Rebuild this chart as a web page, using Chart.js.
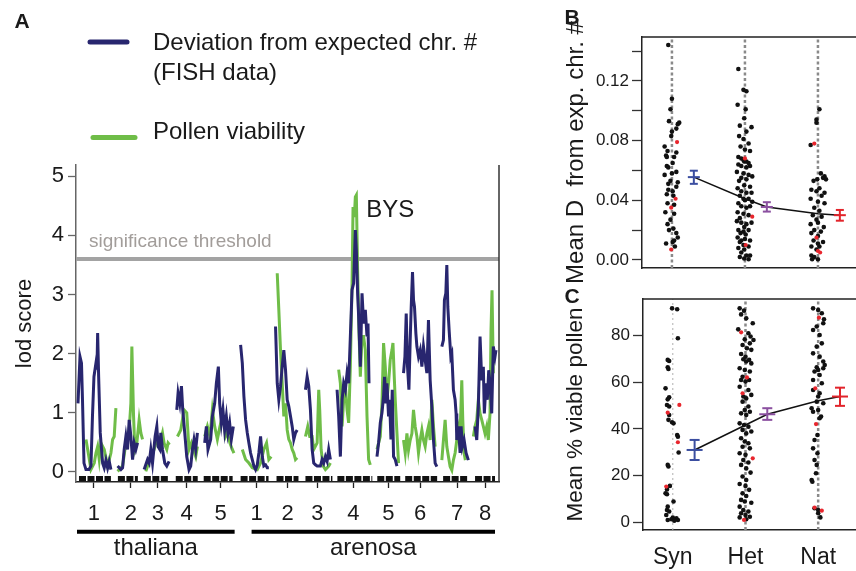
<!DOCTYPE html>
<html>
<head>
<meta charset="utf-8">
<script src="https://cdn.jsdelivr.net/npm/chart.js@4.4.1/dist/chart.umd.min.js"></script>
<style>
  html, body { margin: 0; padding: 0; background: #fff; }
  body { width: 856px; height: 571px; position: relative; overflow: hidden; }
  canvas { position: absolute; top: 0; }
</style>
</head>
<body>
<canvas id="panelA" width="856" height="571" style="left:0"></canvas>
<canvas id="panelB" width="330" height="571" style="left:550px"></canvas>
<canvas id="panelC" width="330" height="571" style="left:550px"></canvas>
<script>
// ---- Panel A: lod scores along the genome (position units) ----
const chromLabels = ['1', '2', '3', '4', '5', '1', '2', '3', '4', '5', '6', '7', '8'];
const chromTicks = [18, 55, 82, 111, 145, 181, 212, 242, 278, 313, 345, 382, 410];
const markerSpans = [[3, 35], [42, 62], [68, 93], [100, 122], [128, 157], [165, 193], [201, 223],
  [230, 257], [262, 297], [302, 325], [330, 362], [368, 393], [400, 420]];
const speciesNames = ['thaliana', 'arenosa'];
const speciesSpans = [[1, 159], [176, 420]];
const lodTicks = [0, 1, 2, 3, 4, 5];
const thresholdLod = 3.6;

const fishLod = [
  [[2, 1.16], [4, 1.95], [5.5, 1.84], [6.5, 1.22], [8, 0.15], [10, 0.04], [13, 0.04], [15, 0.1], [16.5, 0.94], [18, 1.61], [20, 1.84], [21, 1.73], [21.7, 2.35], [22.7, 1.61], [24.3, 0.66], [26.7, 0.15], [28.3, 0.07], [30, 0.2], [31.7, 0.07], [33.3, 0.18], [35, 0.04]],
  [[41.7, 0.1], [45, 0.04], [46.7, 0.07], [48.3, 0.38], [50, 0.6], [51.7, 0.38], [53.3, 0.88], [55, 0.6], [56.7, 0.21], [58.3, 0.49], [60, 0.38], [61.7, 0.49]],
  [[68.3, 0.04], [71.7, 0.21], [73.3, 0.15], [75, 0.38], [76.7, 0.15], [79.3, 0.6], [81, 0.77], [82.3, 0.43], [84, 0.38], [85, 0.66], [86.7, 0.38], [89, 0.15], [91, 0.1], [93.3, 0.18]],
  [[101, 1.05], [102.3, 1.33], [104, 1.16], [105.7, 1.45], [107, 1.05], [109, 0.66], [111, 0.26], [113.3, 0.04], [115, 0.1], [116.7, 0.38], [118.3, 0.55], [120, 0.38], [121.7, 0.66]],
  [[129, 0.49], [130.7, 0.77], [132.3, 0.38], [135, 0.55], [136.7, 0.94], [139, 1.16], [140.7, 1.5], [142.7, 1.78], [144, 1.16], [145.7, 0.83], [147.3, 1.05], [149, 0.71], [150.7, 0.94], [152.3, 0.66], [154, 0.83], [155.7, 0.55], [157.7, 0.77]],
  [[165, 2.15], [166.7, 1.84], [168.3, 1.28], [170, 0.88], [171.7, 0.66], [173.3, 0.49], [175, 0.32], [176.7, 0.21], [178.3, 0.1], [180, 0.04], [181.7, 0.12], [183.3, 0.32], [185, 0.6], [186.7, 0.26], [188.3, 0.1], [190, 0.12], [191.7, 0.07], [193.3, 0.07]],
  [[200, 2.46], [201.7, 1.5], [203.3, 1.22], [205, 1.45], [206.7, 1.78], [208.3, 2.06], [210, 1.73], [211.7, 1.22], [213.3, 1.11], [215, 0.94], [216.7, 0.77], [218.3, 0.55], [220, 0.66], [221.7, 0.71]],
  [[230, 1.39], [231.7, 1.61], [233.3, 1.45], [235, 1.05], [236.7, 0.38], [238.3, 0.15], [240, 0.12], [241.7, 0.1], [245, 0.1], [246.7, 0.21], [248.3, 0.15], [250, 0.26], [251.7, 0.18], [253.3, 0.38], [255, 0.21]],
  [[261.7, 1.39], [263.3, 0.94], [265, 0.26], [266.7, 1.22], [268.3, 1.5], [270, 1.39], [271.7, 1.67], [273.3, 1.5], [275, 2.29], [276.7, 3.08], [278.3, 3.19], [280, 4.09], [281, 3.75], [282.3, 3.02], [283.3, 2.63], [285, 1.78], [286.7, 3.02], [288.3, 2.51], [290, 2.74], [291.7, 2.29], [292.7, 2.51], [293.7, 1.5]],
  [[301.7, 0.26], [303.3, 0.49], [305, 0.83], [306.7, 1.0], [308.3, 1.28], [309.3, 1.61], [310.7, 1.16], [311.7, 1.5], [313.3, 0.94], [314.3, 1.22], [315.7, 0.55], [317, 1.39], [318.3, 0.26], [320, 0.21], [321.7, 0.1]],
  [[328.3, 1.67], [329.7, 1.95], [331, 2.68], [332.3, 1.78], [333.7, 1.39], [335, 2.23], [336, 2.79], [337.3, 3.38], [338.3, 2.91], [339.3, 2.79], [340.7, 2.34], [341.7, 2.12], [343.3, 1.95], [345, 2.06], [346.7, 1.78], [348.3, 2.12], [350, 1.89], [351.7, 1.67], [353.3, 2.57], [355, 1.55], [356.7, 1.1], [358.3, 0.54], [360, 0.15], [361.7, 0.09]],
  [[366.7, 2.12], [368.3, 2.23], [369.3, 2.91], [370.7, 3.02], [371.7, 3.5], [372.7, 2.79], [374, 2.4], [375.7, 1.95], [376.7, 2.0], [378.3, 1.39], [380, 1.22], [381, 0.99], [381.7, 0.54], [383.3, 0.77], [385, 0.32], [386, 0.77], [387.3, 0.43], [389, 0.54], [391, 0.32], [393.3, 0.2]],
  [[400, 0.77], [401.7, 0.54], [403.3, 1.1], [405, 2.29], [406.7, 1.55], [408.3, 1.78], [409.3, 0.99], [411, 1.5], [412.3, 1.22], [413.7, 1.72], [415, 1.5], [416.7, 0.99], [418.3, 2.12], [420, 1.95], [421, 2.06]]
];

const pollenLod = [
  [[10, 0.55], [11.7, 0.38], [15, 0.04], [18.3, 0.15], [20, 0.32], [21.7, 0.43], [23.3, 0.21], [25, 0.49], [28.3, 0.38], [31.7, 0.1], [35, 0.32], [36.7, 0.55], [38.3, 0.6], [40, 1.08]],
  [[41.7, 0.01], [46.7, 0.1], [50, 0.49], [53.3, 0.71], [55, 1.16], [56, 2.12], [57.7, 0.94], [59, 0.38], [61, 0.49], [63.3, 0.88], [65, 0.66], [66.7, 0.55]],
  [[70, 0.01], [75, 0.26], [78.3, 0.38], [81.7, 0.6], [85, 0.55], [86.7, 0.66], [88.3, 0.49], [91, 0.38], [92.3, 0.49], [93.7, 0.46]],
  [[101.7, 0.6], [105, 0.71], [108.3, 1.05], [111, 1.0], [113.3, 0.38], [115.7, 0.49], [117.7, 0.38], [120, 0.26], [121.7, 0.43]],
  [[129, 0.6], [131.7, 0.77], [134.3, 0.6], [136.7, 1.05], [139, 0.77], [141.7, 0.55], [144.3, 0.77], [146.7, 0.94], [148.3, 0.83], [150, 0.6], [151.7, 0.66], [154.3, 0.49], [156.7, 0.38], [158.3, 0.32]],
  [[166.7, 0.38], [170, 0.21], [173.3, 0.15], [176.7, 0.07], [181.7, 0.04], [185, 0.15], [188.3, 0.38], [191, 0.49], [193.3, 0.21], [195.7, 0.26]],
  [[201.7, 3.36], [203.3, 2.74], [205, 2.06], [206.7, 1.5], [208.3, 0.94], [210, 1.16], [211.7, 0.71], [213.3, 0.55], [215, 0.49], [216.7, 0.38], [218.3, 0.32], [220, 0.21], [221.7, 0.24]],
  [[230, 0.6], [232.3, 0.77], [234.3, 0.6], [236.7, 0.6], [238.3, 0.38], [241.7, 0.49], [243.3, 1.39], [244.3, 1.05], [245.7, 0.38], [247.7, 0.1], [250, 0.04], [253.3, 0.1], [255, 0.15]],
  [[263.3, 1.73], [265, 1.5], [266.7, 0.77], [268.3, 1.22], [270, 1.45], [271.7, 1.05], [273.3, 0.83], [275, 1.78], [276.7, 3.19], [277.7, 4.48], [279, 4.31], [280, 4.65], [281, 4.68], [282.3, 3.41], [283.7, 2.35], [285, 1.61], [286.7, 2.29], [288.3, 2.29], [290, 2.06], [291.7, 0.94], [293.3, 0.21], [295, 0.12]],
  [[301.7, 0.38], [305, 0.6], [306.7, 1.16], [308.3, 2.18], [310, 1.78], [311.7, 1.22], [313.3, 1.5], [315, 1.9], [316.7, 2.06], [317.7, 2.18], [319, 1.61], [320, 1.22], [321.7, 0.66], [323.3, 0.15]],
  [[328.3, 0.54], [330, 0.32], [331.7, 0.65], [333.3, 0.37], [335, 0.54], [336.7, 0.65], [338.3, 1.05], [340, 0.77], [341.7, 0.6], [343.3, 0.32], [345, 0.54], [346.7, 0.71], [348.3, 0.54], [350, 0.43], [351.7, 0.65], [353.3, 0.77], [355, 0.54], [356.7, 1.22], [358.3, 0.77], [360, 0.43]],
  [[366.7, 0.2], [368.3, 0.54], [370, 0.88], [371.7, 0.43], [373.3, 0.26], [375, 0.09], [376.7, 0.03], [378.3, 0.2], [380, 0.32], [381.7, 0.54], [383.3, 0.77], [385, 0.65], [386.7, 1.55], [387.7, 0.88], [389, 0.32], [390.3, 0.2]],
  [[398.3, 0.6], [400, 0.77], [401.7, 0.88], [403.3, 1.22], [405, 0.99], [406.7, 0.88], [408.3, 0.77], [410, 0.65], [411.7, 0.77], [413.3, 0.54], [415, 0.99], [416, 2.4], [417, 3.07], [418.3, 1.67]]
];

// ---- Panels B and C: per-plant values, [jitter, value]; red = [group, jitter, value] ----
const groups = ['Syn', 'Het', 'Nat'];

const devSyn = [[-0.05, 0.144], [0, 0.108], [-0.02, 0.101], [-0.04, 0.093], [0.08, 0.091], [0.10, 0.092], [0, 0.086], [-0.01, 0.083], [0.06, 0.088], [-0.10, 0.076], [-0.06, 0.073], [-0.08, 0.070], [-0.07, 0.069], [0.06, 0.072], [0.03, 0.069], [0.01, 0.065], [-0.07, 0.063], [-0.05, 0.062], [0, 0.058], [0.06, 0.059], [-0.10, 0.057], [-0.02, 0.053], [-0.05, 0.051], [0.08, 0.052], [0.06, 0.049], [-0.05, 0.047], [0.01, 0.046], [-0.07, 0.044], [0.02, 0.043], [-0.06, 0.038], [0.03, 0.037], [-0.09, 0.032], [0.03, 0.031], [-0.02, 0.027], [-0.06, 0.024], [0.02, 0.021], [-0.04, 0.020], [0.06, 0.018], [0.08, 0.015], [0.03, 0.013], [-0.08, 0.011], [0.01, 0.012], [0.04, 0.009]];
const devHet = [[-0.09, 0.128], [-0.02, 0.114], [0.02, 0.113], [-0.10, 0.104], [0.01, 0.101], [-0.01, 0.095], [-0.07, 0.090], [0.09, 0.089], [0.02, 0.086], [-0.08, 0.083], [-0.02, 0.081], [0.05, 0.078], [-0.06, 0.076], [0, 0.074], [0.07, 0.073], [-0.09, 0.069], [-0.05, 0.068], [-0.02, 0.067], [-0.01, 0.066], [0.02, 0.066], [0.05, 0.065], [-0.09, 0.064], [-0.05, 0.063], [0.02, 0.062], [0.07, 0.063], [-0.11, 0.059], [-0.02, 0.058], [0.05, 0.057], [0.10, 0.056], [-0.05, 0.055], [0.02, 0.054], [-0.08, 0.053], [-0.01, 0.050], [0.07, 0.049], [-0.10, 0.048], [-0.05, 0.046], [0.02, 0.045], [0.09, 0.045], [-0.07, 0.043], [-0.02, 0.041], [0.05, 0.041], [0, 0.040], [0.10, 0.039], [-0.09, 0.038], [-0.05, 0.036], [0.02, 0.035], [0.07, 0.036], [-0.10, 0.032], [-0.02, 0.031], [0.05, 0.030], [-0.07, 0.028], [-0.11, 0.026], [-0.05, 0.025], [0.02, 0.024], [0.09, 0.025], [-0.01, 0.022], [-0.09, 0.020], [-0.02, 0.019], [0.05, 0.020], [-0.06, 0.018], [0.01, 0.017], [-0.10, 0.015], [-0.05, 0.013], [0, 0.014], [0.07, 0.013], [-0.07, 0.012], [-0.02, 0.010], [0.05, 0.009], [-0.09, 0.008], [-0.01, 0.007], [-0.05, 0.005], [0.02, 0.003], [0.07, 0.003], [-0.07, 0.002], [-0.01, 0.001], [0.05, 0.0005]];
const devNat = [[0.02, 0.101], [-0.02, 0.094], [-0.02, 0.092], [-0.10, 0.077], [0.04, 0.058], [0.09, 0.056], [0.07, 0.055], [-0.01, 0.054], [-0.06, 0.053], [0.11, 0.054], [0.02, 0.048], [-0.09, 0.047], [-0.02, 0.046], [0.09, 0.045], [0.05, 0.043], [-0.10, 0.041], [0, 0.039], [0.09, 0.038], [-0.05, 0.035], [0.02, 0.033], [-0.07, 0.030], [0.05, 0.029], [-0.02, 0.027], [0, 0.025], [-0.10, 0.024], [0.08, 0.022], [-0.05, 0.020], [0.04, 0.019], [-0.09, 0.018], [0, 0.016], [-0.06, 0.013], [0.07, 0.012], [0, 0.011], [-0.09, 0.009], [0.02, 0.009], [-0.02, 0.007], [-0.09, 0.003], [-0.05, 0.002], [-0.08, 0.0005], [0, 0.0005]];
const devRed = [[0, 0.07, 0.079], [0, 0.05, 0.041], [0, -0.01, 0.035], [0, -0.01, 0.007], [1, 0, 0.068], [1, 0.10, 0.029], [1, 0.01, 0.010], [2, -0.05, 0.078], [2, -0.02, 0.015], [2, 0, 0.006], [2, 0.03, 0.005]];
const devMean = [0.0555, 0.0355, 0.030];
const devLow = [0.0510, 0.0324, 0.0263];
const devHigh = [0.0598, 0.0387, 0.0335];
const devTrend = [[1.3, 0.0555], [2, 0.041], [2.3, 0.0355], [3, 0.031], [3.3, 0.030]];
const devTicks = [0, 0.02, 0.04, 0.06, 0.08, 0.10, 0.12, 0.14];
const devTickLabels = ['0.00', '', '0.04', '', '0.08', '', '0.12', ''];

const polSyn = [[-0.01, 91.7], [0.06, 91.3], [0.07, 78.9], [-0.07, 69.6], [-0.05, 69.1], [-0.07, 66.4], [-0.06, 65.7], [-0.10, 57.4], [-0.05, 53.6], [-0.07, 52.7], [-0.08, 50.3], [-0.05, 49.6], [-0.05, 46], [-0.06, 43.9], [-0.01, 42.9], [0.01, 42.4], [0.06, 37.4], [0.07, 36.7], [0.08, 29.9], [-0.07, 24.6], [-0.06, 23.9], [-0.04, 15.6], [-0.08, 14.1], [-0.10, 12.4], [-0.08, 12], [0.01, 8.9], [-0.07, 6.7], [-0.08, 5.3], [-0.05, 4.6], [-0.09, 3.1], [0, 2], [0.05, 1.7], [-0.02, 1.3], [0.07, 1], [-0.07, 1], [0.02, 0.7]];
const polHet = [[-0.08, 91.7], [-0.02, 90.7], [-0.06, 89.1], [0.01, 87.4], [0.10, 85.3], [-0.10, 82.7], [0.04, 81], [0.07, 79.6], [0.11, 78.1], [-0.01, 78.4], [0.06, 76.7], [-0.04, 76], [0.02, 74.6], [0.08, 73.9], [-0.06, 72.1], [0, 71], [0.05, 69.6], [-0.03, 69.9], [0.01, 68.9], [0.08, 68.1], [-0.08, 66], [-0.01, 65.3], [0.06, 64.6], [-0.04, 62.4], [-0.06, 61], [0, 60.3], [0.05, 61], [-0.08, 58.1], [0.04, 56.7], [-0.03, 53.9], [0.08, 54.6], [0.01, 53.1], [-0.04, 51.7], [0.04, 49.6], [-0.01, 48.1], [0.06, 47.4], [-0.06, 46.7], [0.01, 46], [-0.08, 42.4], [-0.02, 41.7], [0.04, 41], [-0.04, 39.6], [0.01, 38.1], [0.08, 38.9], [-0.06, 36], [-0.01, 34.6], [0.04, 33.9], [-0.04, 32.4], [0.06, 31.7], [-0.08, 29.6], [0, 28.9], [-0.03, 26.7], [0.04, 25.6], [-0.06, 24.6], [0.01, 23.1], [0.07, 21.3], [-0.04, 19.6], [0.01, 18.1], [-0.08, 16.4], [0, 15.6], [0.05, 13.9], [-0.04, 12.4], [0.01, 11.3], [-0.06, 9.6], [-0.01, 8.9], [0.08, 8.4], [-0.08, 6.7], [-0.03, 5.3], [0.04, 4.6], [-0.06, 3.9], [0, 3.1], [0.06, 2.4], [-0.08, 2.1], [0.01, 1.3]];
const polNat = [[-0.07, 91.7], [0, 91], [0.05, 89.6], [0.08, 87], [0.07, 85.3], [-0.02, 83.9], [-0.07, 82.4], [0.02, 80.3], [0.05, 76.7], [-0.02, 75.3], [-0.07, 72.4], [0.02, 71], [0.07, 68.9], [0.09, 67.4], [0.07, 66], [-0.02, 66.4], [0, 65.3], [-0.05, 64.6], [0.02, 63.1], [-0.07, 61], [0.05, 59.6], [-0.07, 56.7], [0.02, 55.3], [0, 53.9], [-0.02, 51.7], [0.07, 51], [-0.09, 48.9], [0, 48.1], [-0.07, 47.4], [0.04, 45.3], [0.02, 44.6], [-0.01, 37.4], [-0.05, 35.3], [-0.07, 31.7], [-0.01, 29.6], [-0.05, 26.7], [-0.02, 24.6], [-0.03, 21], [-0.09, 18.1], [-0.08, 17.4], [-0.05, 6], [0, 5.3], [0.03, 2.1], [0, 3.9]];
const polRed = [[0, 0.09, 50.3], [0, -0.07, 47], [0, 0.07, 34.3], [0, -0.09, 15.3], [1, -0.06, 81.4], [1, 0.02, 62.1], [1, -0.04, 55.3], [1, 0.10, 27.4], [1, -0.02, 1.0], [2, 0.01, 87.7], [2, -0.04, 57.4], [2, -0.03, 42.1], [2, -0.05, 6.3], [2, 0.05, 5]];
const polMean = [31, 46.3, 53.9];
const polLow = [26.7, 43.9, 49.9];
const polHigh = [35.3, 48.9, 57.7];
const polTrend = [[1.3, 31], [2, 41.7], [2.3, 46.3], [3, 52.1], [3.3, 53.9]];
const polTicks = [0, 20, 40, 60, 80];

// ---- styling ----
const FONT = '"Liberation Sans", Arial, Helvetica, sans-serif';
const NAVY = '#28266f';
const GREEN = '#6fbd48';
const GROUP_COLORS = ['#3b4ea0', '#8b50a0', '#e2242b'];

Chart.defaults.font.family = FONT;
Chart.defaults.color = '#1a1a1a';
Chart.defaults.animation = false;

// plain pixel text and legend swatches
const annotatePlugin = {
  id: 'annotate',
  afterDraw(chart, args, opts) {
    const ctx = chart.ctx;
    (opts.items || []).forEach(it => {
      ctx.save();
      if (it.swatch) {
        ctx.strokeStyle = it.swatch;
        ctx.lineWidth = 5;
        ctx.lineCap = 'round';
        ctx.beginPath();
        ctx.moveTo(it.x1, it.y);
        ctx.lineTo(it.x2, it.y);
        ctx.stroke();
      } else {
        let x = it.x, y = it.y;
        if (it.inData) {
          x = chart.scales.x.getPixelForValue(it.x);
          y = chart.scales.y.getPixelForValue(it.y);
        }
        ctx.font = it.font;
        ctx.fillStyle = it.color || '#1a1a1a';
        ctx.textAlign = it.align || 'left';
        ctx.textBaseline = 'middle';
        ctx.fillText(it.text, x, y);
      }
      ctx.restore();
    });
  }
};

// top / right lines of the plot box
const framePlugin = {
  id: 'frame',
  afterDatasetsDraw(chart, args, opts) {
    const { ctx, chartArea: a } = chart;
    ctx.save();
    ctx.strokeStyle = opts.color || '#222';
    ctx.lineWidth = opts.width || 1.5;
    ctx.beginPath();
    (opts.sides || []).forEach(side => {
      if (side === 'top') { ctx.moveTo(a.left, a.top); ctx.lineTo(a.right, a.top); }
      if (side === 'right') { ctx.moveTo(a.right, a.top); ctx.lineTo(a.right, a.bottom); }
    });
    ctx.stroke();
    ctx.restore();
  }
};

// chromosome pieces joined into one line, broken between pieces
function joinSegments(segments) {
  const out = [];
  segments.forEach((seg, i) => {
    if (i > 0) out.push({ x: seg[0][0] - 0.5, y: null });
    seg.forEach(([x, y]) => out.push({ x, y }));
  });
  return out;
}

function setTicks(values) {
  return scale => { scale.ticks = values.map(v => ({ value: v })); };
}

function lineSet(data, color, width, extra) {
  return Object.assign({ data, showLine: true, borderColor: color, borderWidth: width, pointRadius: 0, spanGaps: false }, extra || {});
}

// ---------------- Panel A ----------------
const genomeRange = [0, 424];
const lodRange = [-0.17, 5.19];
const rugLod = -0.11;
const underlineLod = -1.01;

new Chart(document.getElementById('panelA'), {
  type: 'scatter',
  data: {
    datasets: [
      lineSet(joinSegments(fishLod), NAVY, 3, { label: 'Deviation from expected chr. # (FISH data)' }),
      lineSet(joinSegments(pollenLod), GREEN, 3, { label: 'Pollen viability' }),
      lineSet([{ x: genomeRange[0], y: thresholdLod }, { x: genomeRange[1], y: thresholdLod }], '#a3a3a3', 4, { label: 'significance threshold' }),
      lineSet(joinSegments(markerSpans.map(([a, b]) => [[a, rugLod], [b, rugLod]])), '#111', 5,
        { label: 'markers', borderDash: [7, 1.5], borderCapStyle: 'butt' }),
      lineSet(joinSegments(speciesSpans.map(([a, b]) => [[a, underlineLod], [b, underlineLod]])), '#000', 4,
        { label: 'species', clip: false })
    ]
  },
  options: {
    responsive: false,
    layout: { padding: { left: 0, top: 165, right: 357, bottom: 0 } },
    plugins: {
      legend: { display: false },
      tooltip: { enabled: false },
      frame: { sides: ['right'], color: '#333', width: 1.5 },
      annotate: {
        items: [
          { text: 'A', x: 22, y: 22, font: 'bold 21px ' + FONT, align: 'center' },
          { swatch: NAVY, x1: 90, x2: 127, y: 42 },
          { text: 'Deviation from expected chr. #', x: 153, y: 43, font: '24px ' + FONT },
          { text: '(FISH data)', x: 153, y: 73, font: '24px ' + FONT },
          { swatch: GREEN, x1: 93, x2: 135, y: 137.5 },
          { text: 'Pollen viability', x: 153, y: 132, font: '24px ' + FONT },
          { text: 'significance threshold', x: 13, y: 3.9, inData: true, font: '19px ' + FONT, color: '#a29d9a' },
          { text: 'BYS', x: 291, y: 4.43, inData: true, font: '24px ' + FONT }
        ]
      }
    },
    scales: {
      x: {
        type: 'linear', position: 'bottom', weight: 0,
        min: genomeRange[0], max: genomeRange[1],
        afterFit: s => { s.height = 41; },
        afterBuildTicks: setTicks(chromTicks),
        ticks: {
          autoSkip: false, maxRotation: 0, padding: 13,
          font: { size: 22 }, color: '#1a1a1a',
          callback: (v, i) => chromLabels[i]
        },
        grid: { drawOnChartArea: false, drawTicks: true, tickLength: 6, tickColor: '#222', tickWidth: 1.3 },
        border: { display: true, color: '#222', width: 1.5 }
      },
      xs: {
        type: 'linear', position: 'bottom', weight: 1,
        min: genomeRange[0], max: genomeRange[1],
        afterFit: s => { s.height = 48; },
        afterBuildTicks: setTicks(speciesSpans.map(([a, b]) => (a + b) / 2)),
        ticks: {
          autoSkip: false, maxRotation: 0, padding: 11,
          font: { size: 24 }, color: '#1a1a1a',
          callback: (v, i) => speciesNames[i]
        },
        grid: { display: false, drawTicks: false },
        border: { display: false }
      },
      y: {
        type: 'linear', position: 'left',
        min: lodRange[0], max: lodRange[1],
        afterFit: s => { s.width = 76; },
        afterBuildTicks: setTicks(lodTicks),
        ticks: { padding: 4, font: { size: 22 }, color: '#1a1a1a' },
        grid: { drawOnChartArea: false, drawTicks: true, tickLength: 8, tickColor: '#666', tickWidth: 1.3 },
        border: { display: true, color: '#666', width: 1.5 },
        title: { display: true, text: 'lod score', font: { size: 22 }, color: '#1a1a1a', padding: { top: 12, bottom: 0 } }
      }
    }
  },
  plugins: [framePlugin, annotatePlugin]
});

// ---------------- Panels B and C ----------------
const groupRange = [0.59, 3.713];

function groupPanel(canvasId, cfg) {
  const pts = (lists) => lists.flatMap((list, g) => list.map(([dx, v]) => ({ x: g + 1 + dx, y: v })));
  const datasets = [];
  groups.forEach((g, i) => {
    datasets.push({
      label: g + ' mean',
      data: [cfg.low[i], cfg.mean[i], cfg.high[i]].map(v => ({ x: i + 1.3, y: v })),
      showLine: true, borderColor: GROUP_COLORS[i], borderWidth: 2,
      pointStyle: 'line', pointRadius: cfg.barSizes, pointBorderWidth: 2,
      pointBorderColor: GROUP_COLORS[i], pointBackgroundColor: GROUP_COLORS[i]
    });
  });
  datasets.push(lineSet(cfg.trend.map(([x, y]) => ({ x, y })), '#111', 1.5, { label: 'trend' }));
  datasets.push({
    label: 'red', data: cfg.red.map(([g, dx, v]) => ({ x: g + 1 + dx, y: v })),
    pointRadius: 2.1, backgroundColor: '#e8262d', borderWidth: 0
  });
  datasets.push({
    label: 'plants', data: pts(cfg.points),
    pointRadius: 2.3, backgroundColor: '#111', borderWidth: 0
  });
  groups.forEach((g, i) => {
    const st = cfg.guides[i];
    datasets.push(lineSet([{ x: i + 1, y: cfg.range[0] }, { x: i + 1, y: cfg.range[1] }], st.color, st.width,
      { label: g, borderDash: st.dash }));
  });

  new Chart(document.getElementById(canvasId), {
    type: 'scatter',
    data: { datasets },
    options: {
      responsive: false,
      layout: { padding: { left: 0, top: cfg.top, right: 10, bottom: cfg.bottom } },
      plugins: {
        legend: { display: false },
        tooltip: { enabled: false },
        frame: { sides: ['top', 'right'], color: '#222', width: 1.5 },
        annotate: { items: [{ text: cfg.letter, x: 22, y: cfg.letterY, font: 'bold 21px ' + FONT, align: 'center' }] }
      },
      scales: {
        x: {
          type: 'linear', min: groupRange[0], max: groupRange[1],
          afterFit: s => { s.height = cfg.xHeight; },
          afterBuildTicks: setTicks([1, 2, 3]),
          ticks: {
            display: cfg.showGroups, autoSkip: false, maxRotation: 0, padding: 14,
            font: { size: 23 }, color: '#1a1a1a',
            callback: (v, i) => groups[i]
          },
          grid: { drawOnChartArea: false, drawTicks: false },
          border: { display: true, color: '#222', width: 1.5 }
        },
        y: {
          type: 'linear', min: cfg.range[0], max: cfg.range[1],
          afterFit: s => { s.width = cfg.yWidth; },
          afterBuildTicks: setTicks(cfg.ticks),
          ticks: { padding: 3, font: { size: 17 }, color: '#1a1a1a', callback: cfg.tickLabel },
          grid: { drawOnChartArea: false, drawTicks: true, tickLength: 10, tickColor: '#333', tickWidth: 1.3 },
          border: { display: true, color: '#222', width: 1.5 },
          title: { display: true, text: cfg.title, font: { size: cfg.titleSize }, color: '#1a1a1a', padding: { top: cfg.titlePad, bottom: 0 } }
        }
      }
    },
    plugins: [framePlugin, annotatePlugin]
  });
}

const thickGuide = { color: '#8a8a8a', width: 2.5, dash: [3, 2.5] };

groupPanel('panelB', {
  letter: 'B', letterY: 18,
  points: [devSyn, devHet, devNat], red: devRed,
  mean: devMean, low: devLow, high: devHigh, trend: devTrend,
  barSizes: [4, 6, 4],
  range: [-0.0054, 0.1494], ticks: devTicks,
  tickLabel: (v, i) => devTickLabels[i],
  title: 'Mean D  from exp. chr. #', titleSize: 24, titlePad: 12,
  guides: [thickGuide, thickGuide, thickGuide],
  top: 37, bottom: 303, xHeight: 0, yWidth: 92, showGroups: false
});

groupPanel('panelC', {
  letter: 'C', letterY: 297,
  points: [polSyn, polHet, polNat], red: polRed,
  mean: polMean, low: polLow, high: polHigh, trend: polTrend,
  barSizes: [5, 8, 5],
  range: [-3.3, 95.7], ticks: polTicks,
  tickLabel: v => String(v),
  title: 'Mean % viable pollen', titleSize: 22.5, titlePad: 12,
  guides: [{ color: '#b0b0b0', width: 1, dash: [2, 3] }, thickGuide, thickGuide],
  top: 299, bottom: 0, xHeight: 41, yWidth: 93, showGroups: true
});
</script>
</body>
</html>
